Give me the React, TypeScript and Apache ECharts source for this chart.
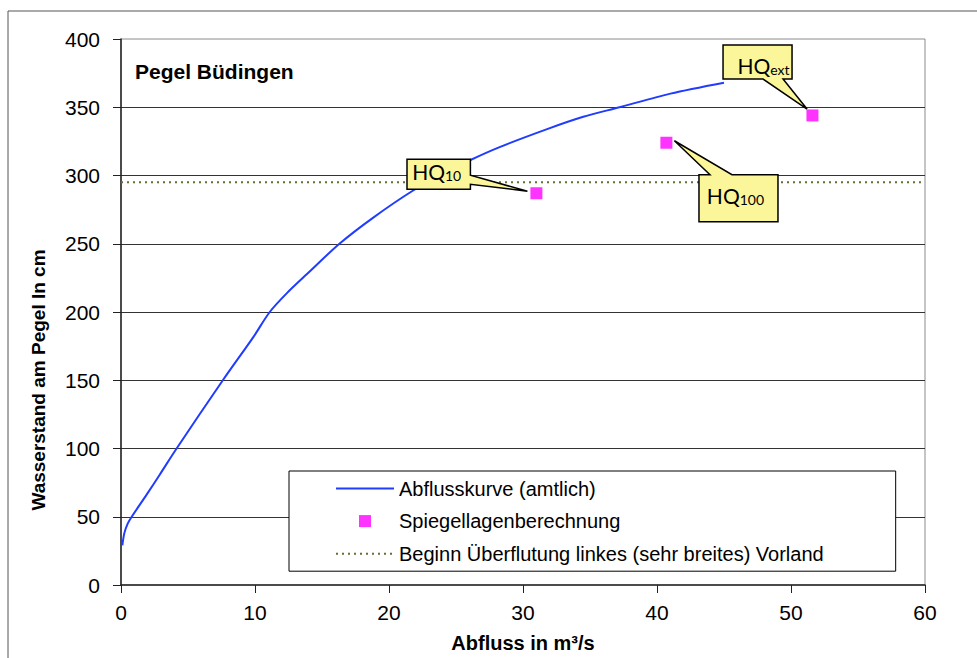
import React, { useEffect, useRef } from "react";
import * as echarts from "echarts";

// Abflusskurve (amtlich): Abfluss [m³/s] vs Wasserstand [cm]
const curveQ = [0.1, 0.25, 0.5, 0.8, 1.9, 2.9, 4.15, 7.6, 9.9, 11.1, 12.4, 13.9, 16.3, 18.8, 21.8, 24, 26, 28.3, 31.8, 34.5, 37.2, 41, 45];
const curveW = [29, 38, 45, 50, 66, 81, 100, 150, 182, 200, 214, 228, 250, 269, 289, 301, 311, 321, 334, 343, 350, 360, 368];

// Spiegellagenberechnung
const hqSub = ["10", "100", "ext"];
const hqQ = [31, 40.7, 51.6];
const hqW = [287, 324, 344];

// Beginn Überflutung linkes Vorland
const vorlandQ = [0, 60];
const vorlandW = [295, 295];

const xMin = 0, xMax = 60, xStep = 10;
const yMin = 0, yMax = 400, yStep = 50;

const seriesNames = [
  "Abflusskurve (amtlich)",
  "Spiegellagenberechnung",
  "Beginn Überflutung linkes (sehr breites) Vorland",
];

const FONT = '"Liberation Sans", Arial, sans-serif';
const CALLOUT_FONT = 'Lato, "Open Sans", sans-serif';

// callout layout: pixel offsets relative to the marker
const calloutLayout = [
  { box: [-129.4, -34, -66, -4], side: "right", base: [-18, -9], tip: [-9, -2], tx: -2, ty: -3 },
  { box: [32.6, 32, 111.6, 79], side: "top", base: [43.6, 65.6], tip: [8, -2], tx: -3, ty: -3 },
  { box: [-89.4, -70.4, -20.4, -36.4], side: "bottom", base: [-49.4, -29.4], tip: [-5.4, -6.4], tx: 6, ty: 3 },
];

const hidden = { color: "rgba(0,0,0,0)", borderColor: "rgba(0,0,0,0)", borderWidth: 0 };

export default function App() {
  const ref = useRef<HTMLDivElement>(null);
  useEffect(() => {
    document.body.style.margin = "0";
    if (!ref.current) return;
    const chart = echarts.init(ref.current, undefined, { renderer: "svg" });
    const option: any = {
      animation: false,
      backgroundColor: "#fff",
      title: {
        text: "Pegel Büdingen",
        left: 135,
        top: 60,
        padding: 0,
        textStyle: { fontFamily: FONT, fontSize: 21, fontWeight: "bold", color: "#000", lineHeight: 22 },
      },
      grid: {
        left: 121,
        top: 39,
        width: 804,
        height: 553,
        show: true,
        borderColor: "#8c8c8c",
        borderWidth: 1,
        backgroundColor: "transparent",
      },
      legend: {
        orient: "vertical",
        left: 289,
        top: 471,
        padding: [7.5, 72, 7.5, 46],
        itemWidth: 58,
        itemHeight: 12,
        itemGap: 12.6,
        backgroundColor: "#fff",
        borderColor: "#000",
        borderWidth: 1,
        textStyle: { fontFamily: FONT, fontSize: 20, color: "#000" },
        data: [
          { name: seriesNames[0], itemStyle: hidden },
          { name: seriesNames[1], icon: "path://M0,0L12,0L12,12L0,12Z" },
          { name: seriesNames[2], itemStyle: hidden },
        ],
      },
      xAxis: {
        type: "value",
        min: xMin,
        max: xMax,
        interval: xStep,
        name: "Abfluss in m³/s",
        nameLocation: "middle",
        nameGap: 48,
        nameTextStyle: { fontFamily: FONT, fontSize: 20, fontWeight: "bold", color: "#000" },
        axisLine: { show: true, onZero: false, lineStyle: { color: "#222", width: 1.5 } },
        axisTick: { show: true, inside: false, length: 8, lineStyle: { color: "#222", width: 1 } },
        axisLabel: { fontFamily: FONT, fontSize: 21, color: "#000", margin: 17 },
        splitLine: { show: false },
      },
      yAxis: {
        type: "value",
        min: yMin,
        max: yMax,
        interval: yStep,
        name: "Wasserstand am Pegel In cm",
        nameLocation: "middle",
        nameGap: 73,
        nameRotate: 90,
        nameTextStyle: {
          fontFamily: FONT,
          fontSize: 19,
          fontWeight: "bold",
          color: "#000",
          padding: [0, 136, 0, 0],
        },
        axisLine: { show: true, lineStyle: { color: "#222", width: 1.5 } },
        axisTick: { show: true, inside: false, length: 8, lineStyle: { color: "#222", width: 1 } },
        axisLabel: { fontFamily: FONT, fontSize: 21, color: "#000", margin: 21 },
        splitLine: { show: true, showMinLine: false, showMaxLine: false, lineStyle: { color: "#333", width: 1 } },
      },
      series: [
        {
          name: seriesNames[2],
          type: "line",
          data: vorlandQ.map((q, i) => [q, vorlandW[i]]),
          showSymbol: false,
          symbol: "none",
          lineStyle: { color: "#5f7232", width: 2, type: [2, 4] },
          itemStyle: { color: "#5f7232" },
          z: 2,
        },
        {
          name: seriesNames[0],
          type: "line",
          data: curveQ.map((q, i) => [q, curveW[i]]),
          showSymbol: false,
          symbol: "none",
          smooth: 0.3,
          lineStyle: { color: "#1f3cff", width: 2 },
          itemStyle: { color: "#1f3cff" },
          z: 3,
        },
        {
          name: seriesNames[1],
          type: "scatter",
          data: hqQ.map((q, i) => [q, hqW[i]]),
          symbol: "rect",
          symbolSize: 12,
          itemStyle: { color: "#ff00ff" },
          z: 4,
        },
      ],
    };
    chart.setOption(option);

    const graphics: any[] = [
      {
        type: "rect",
        shape: { x: 8, y: 11, width: 1200, height: 900 },
        style: { fill: "none", stroke: "#555", lineWidth: 1 },
        z: -1,
        silent: true,
      },
    ];
    hqQ.forEach((q, i) => {
      const [cx, cy] = chart.convertToPixel({ gridIndex: 0 }, [q, hqW[i]]) as number[];
      const c = calloutLayout[i];
      const L = cx + c.box[0], T = cy + c.box[1], R = cx + c.box[2], B = cy + c.box[3];
      const tx = cx + c.tip[0], ty = cy + c.tip[1];
      let pts: number[][] = [];
      if (c.side === "right") {
        pts = [[L, T], [R, T], [R, cy + c.base[0]], [tx, ty], [R, cy + c.base[1]], [R, B], [L, B]];
      } else if (c.side === "top") {
        pts = [[L, T], [cx + c.base[0], T], [tx, ty], [cx + c.base[1], T], [R, T], [R, B], [L, B]];
      } else {
        pts = [[L, T], [R, T], [R, B], [cx + c.base[1], B], [tx, ty], [cx + c.base[0], B], [L, B]];
      }
      graphics.push({
        type: "polygon",
        shape: { points: pts },
        style: { fill: "#fcf69a", stroke: "#000", lineWidth: 1.5, lineJoin: "miter" },
        z: 10,
      });
      graphics.push({
        type: "text",
        x: (L + R) / 2 + c.tx,
        y: (T + B) / 2 + c.ty,
        style: {
          text: `{a|HQ}{b|${hqSub[i]}}`,
          align: "center",
          verticalAlign: "middle",
          textAlign: "center",
          textVerticalAlign: "middle",
          fill: "#000",
          rich: {
            a: { fontFamily: CALLOUT_FONT, fontSize: 21, lineHeight: 22, fill: "#000" },
            b: { fontFamily: CALLOUT_FONT, fontSize: 14, lineHeight: 14, verticalAlign: "bottom", fill: "#000" },
          },
        },
        z: 11,
      });
    });
    chart.setOption({ graphic: graphics });

    return () => chart.dispose();
  }, []);
  return <div ref={ref} style={{ width: 977, height: 658 }} />;
}
